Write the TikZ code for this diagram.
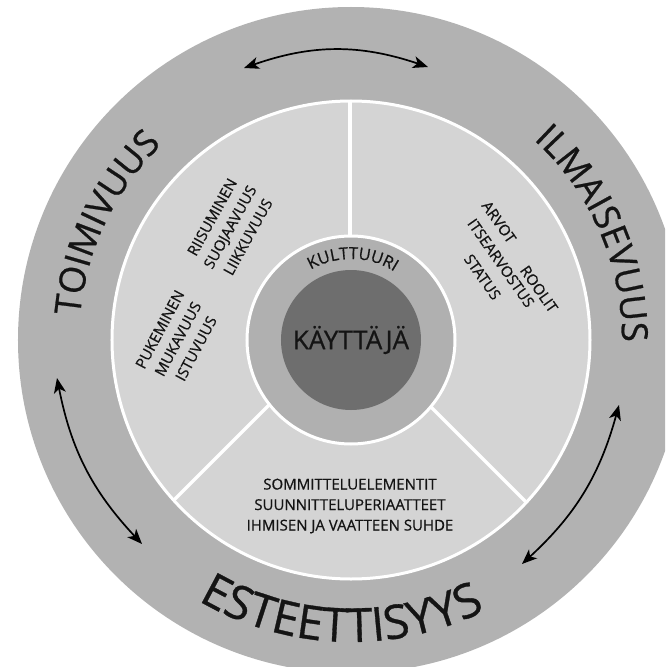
\documentclass[tikz,border=0pt]{standalone}
\usepackage{fontspec}
\setmainfont{Open Sans}[FakeBold=0.7]
\usetikzlibrary{decorations.text, arrows.meta}
\definecolor{outerg}{HTML}{B2B2B2}
\definecolor{lightg}{HTML}{D4D4D4}
\definecolor{midg}{HTML}{B0B0B0}
\definecolor{darkg}{HTML}{6E6E6E}
\definecolor{txt}{HTML}{141414}
\begin{document}
\begin{tikzpicture}[x=1pt,y=1pt,
  dbl/.style={{Stealth[length=15pt,width=12pt,inset=4pt]}-{Stealth[length=15pt,width=12pt,inset=4pt]}, line width=1.7pt, draw=black},
  smalltxt/.style={font=\fontsize{15}{20.5}\selectfont, text=txt, align=center, inner sep=0pt},
  wordtxt/.style={font=\fontsize{15}{18}\selectfont, text=txt, inner sep=0pt},
  divider/.style={draw=white, line width=3.5pt},
  ringline/.style={draw=white, line width=3pt},
  bigcurve/.style={decorate, decoration={text along path, text align=center, text color=txt, text={|\fontsize{36}{40}\selectfont|#1}}},
  hugecurve/.style={decorate, decoration={text along path, text align=center, text color=txt, text={|\fontsize{47}{52}\selectfont|#1}}},
  smallcurve/.style={decorate, decoration={text along path, text align=center, text color=txt, text={|\fontsize{16.5}{18}\selectfont|#1}}}
]
\useasboundingbox (-351,-327) rectangle (314,340);
\begin{scope}
\clip (-351,-327) rectangle (314,340);
\fill[outerg] (0,0) circle (333);
\fill[lightg] (0,0) circle (239);
\begin{scope}
\clip (0,0) circle (239);
\coordinate (c) at (-2,15);
\draw[divider] (c) -- ++(225:400);
\draw[divider] (c) -- ++(-45:400);
\draw[divider] (-1,0) -- (-1,300);
\end{scope}
\draw[ringline] (0,0) circle (239);
\draw[ringline, fill=midg] (0,0) circle (104);
\fill[darkg] (0,0) circle (70);

% curved labels
\path[bigcurve={TOIMIVUUS}] (204.5:272) arc[start angle=204.5, end angle=104.5, radius=272];
\path[bigcurve={ILMAISEVUUS}] (73.6:271) arc[start angle=73.6, end angle=-26.4, radius=271];
\path[hugecurve={ESTEETTISYYS}] (-142:302) arc[start angle=-142, end angle=-42, radius=302];
\path[smallcurve={KULTTUURI}] (138.75:81) arc[start angle=138.75, end angle=38.75, radius=81];

\node[font=\fontsize{26}{30}\selectfont, text=txt, inner sep=0pt] (user) at (0,0) {KÄYTTÄJÄ};

\node[smalltxt, rotate=61] (riisu) at (-121,113) {RIISUMINEN\\SUOJAAVUUS\\LIIKKUVUUS};
\node[smalltxt, rotate=62] (puke) at (-173,1) {PUKEMINEN\\MUKAVUUS\\ISTUVUUS};
\node[smalltxt] (somm) at (-1,-166) {SOMMITTELUELEMENTIT\\SUUNNITTELUPERIAATTEET\\IHMISEN JA VAATTEEN SUHDE};

\node[wordtxt, rotate=-55] (arvot) at (148,118) {ARVOT};
\node[wordtxt, rotate=-55] (itse) at (150,77) {ITSEARVOSTUS};
\node[wordtxt, rotate=-55] (status) at (131.5,63) {STATUS};
\node[wordtxt, rotate=-55] (roolit) at (188,51) {ROOLIT};

% arrows
\coordinate (tl) at (-107,272);
\coordinate (tr) at (77,273);
\coordinate (lu) at (-294,-38);
\coordinate (ll) at (-209,-204);
\coordinate (ru) at (268,-65);
\coordinate (rl) at (171,-224);
\draw[dbl] (tl) to[bend left=19] (tr);
\draw[dbl] (lu) to[bend right=16] (ll);
\draw[dbl] (ru) to[bend left=16] (rl);
\end{scope}
\end{tikzpicture}
\end{document}
